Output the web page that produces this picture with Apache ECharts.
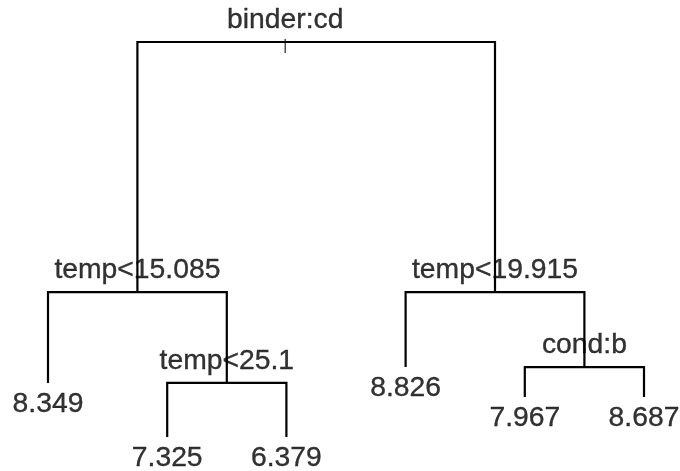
<!DOCTYPE html>
<html><head><meta charset="utf-8">
<script src="https://cdn.jsdelivr.net/npm/echarts@6/dist/echarts.min.js"></script>
<style>html,body{margin:0;padding:0;background:#fff}#c{width:680px;height:471px}</style>
</head><body><div id="c"></div>
<script>
// Regression tree: split nodes placed on a leaf-index scale (x) and a deviance scale (y)
const splitLabels = ['binder:cd', 'temp<15.085', 'temp<25.1', 'temp<19.915', 'cond:b'];
const splitX = [2.99, 1.75, 2.5, 4.75, 5.5];
const splitY = [100, 36.7, 13.7, 36.7, 17.7];
// children of each split: 's#' = another split, 'l#' = a leaf
const leftChild = ['s1', 'l0', 'l1', 'l3', 'l4'];
const rightChild = ['s3', 's2', 'l2', 's4', 'l5'];
// terminal nodes: fitted values and positions
const leafValues = [8.349, 7.325, 6.379, 8.826, 7.967, 8.687];
const leafX = [1, 2, 3, 4, 5, 6];
const leafY = [13.7, 0, 0, 17.7, 10.1, 10.1];

function nodePos(ref) {
  const i = +ref.slice(1);
  return ref[0] === 's' ? [splitX[i], splitY[i]] : [leafX[i], leafY[i]];
}

const branches = splitX.map((x, i) => {
  const l = nodePos(leftChild[i]);
  const r = nodePos(rightChild[i]);
  const y = splitY[i];
  return { coords: [l, [l[0], y], [r[0], y], r] };
});

const font = {
  fontSize: 28.3, color: '#000000', fontFamily: 'Liberation Sans, Arial, sans-serif',
  textBorderColor: '#000000', textBorderWidth: 0.35
};

const chart = echarts.init(document.getElementById('c'), null, { renderer: 'canvas' });
chart.setOption({
  animation: false,
  backgroundColor: '#fff',
  grid: { left: 48, right: 36, top: 42, bottom: 34 },
  xAxis: { type: 'value', min: 1, max: 6, show: false },
  yAxis: { type: 'value', min: 0, max: 100, show: false },
  series: [
    {
      type: 'lines',
      coordinateSystem: 'cartesian2d',
      polyline: true,
      clip: false,
      lineStyle: { color: '#000', width: 2.2, opacity: 1 },
      data: branches
    },
    {
      type: 'scatter',
      clip: false,
      symbolSize: 0,
      data: splitX.map((x, i) => [x, splitY[i]]),
      label: Object.assign({
        show: true, position: 'top', distance: 8,
        formatter: p => splitLabels[p.dataIndex]
      }, font)
    },
    {
      type: 'scatter',
      clip: false,
      symbolSize: 0,
      data: leafX.map((x, i) => [x, leafY[i]]),
      label: Object.assign({
        show: true, position: 'bottom', distance: 7,
        formatter: p => leafValues[p.dataIndex].toFixed(3)
      }, font)
    },
    {
      // root marker
      type: 'scatter',
      clip: false,
      symbol: 'rect',
      symbolSize: [1.3, 14],
      symbolOffset: [0, 4],
      itemStyle: { color: '#000' },
      data: [[splitX[0], splitY[0]]]
    }
  ]
});
</script></body></html>
